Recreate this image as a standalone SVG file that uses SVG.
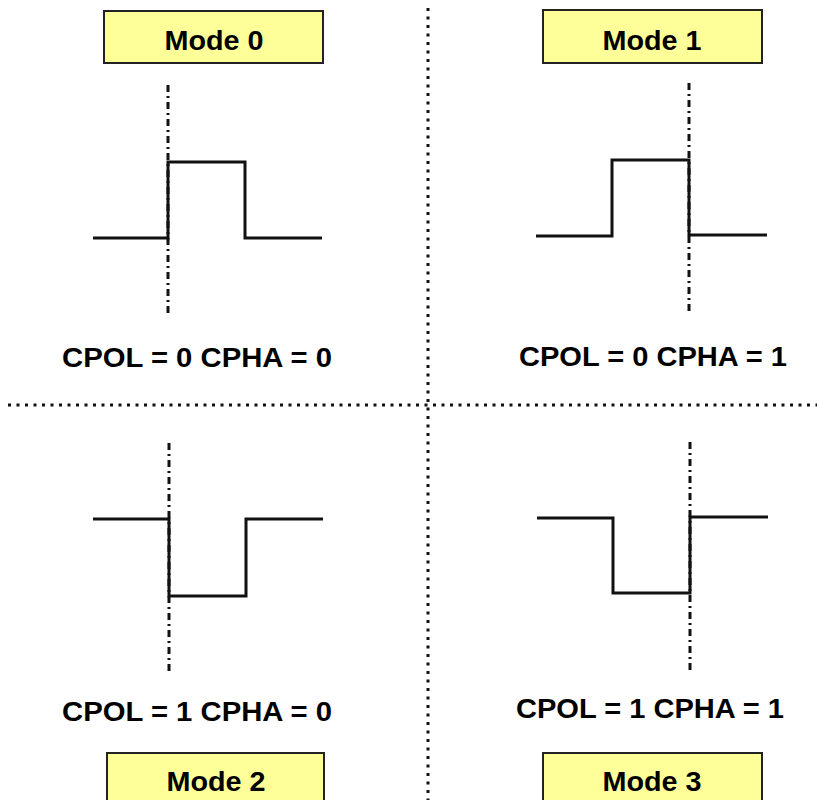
<svg xmlns="http://www.w3.org/2000/svg" width="817" height="800" viewBox="0 0 817 800">
<style>
.box{fill:#ffff99;stroke:#222;stroke-width:2}
.t{font-family:"Liberation Sans",Arial,sans-serif;font-weight:bold;font-size:27px;fill:#000;text-anchor:middle}
.wave{fill:none;stroke:#111;stroke-width:3;stroke-linejoin:miter}
.dd{stroke:#111;stroke-width:3;stroke-dasharray:7 4 2 4;fill:none}
.dot{stroke:#111;stroke-width:3;stroke-dasharray:3 5.5;fill:none}
</style>
<rect width="817" height="800" fill="#fff"/>
<g id="dividers">
<line class="dot" x1="428" y1="8" x2="428" y2="800"/>
<line class="dot" x1="8" y1="405" x2="817" y2="405"/>
</g>
<g id="mode0">
<rect class="box" x="104" y="11" width="219" height="52"/>
<text class="t" x="214" y="50" textLength="99" lengthAdjust="spacingAndGlyphs">Mode 0</text>
<line class="dd" x1="168" y1="85" x2="168" y2="317"/>
<polyline class="wave" points="93,238 168,238 168,162 245,162 245,238 322,238"/>
<text class="t" x="197" y="367" textLength="270" lengthAdjust="spacingAndGlyphs">CPOL = 0 CPHA = 0</text>
</g>
<g id="mode1">
<rect class="box" x="543" y="10" width="219" height="53"/>
<text class="t" x="652" y="50" textLength="99" lengthAdjust="spacingAndGlyphs">Mode 1</text>
<line class="dd" x1="689" y1="83" x2="689" y2="313"/>
<polyline class="wave" points="536,236 612,236 612,160 689,160 689,235 767,235"/>
<text class="t" x="653" y="366" textLength="268" lengthAdjust="spacingAndGlyphs">CPOL = 0 CPHA = 1</text>
</g>
<g id="mode2">
<rect class="box" x="107" y="753" width="217" height="60"/>
<text class="t" x="216" y="791" textLength="99" lengthAdjust="spacingAndGlyphs">Mode 2</text>
<line class="dd" x1="169" y1="443" x2="169" y2="673"/>
<polyline class="wave" points="93,519 169,519 169,596 246,596 246,519 323,519"/>
<text class="t" x="197" y="721" textLength="270" lengthAdjust="spacingAndGlyphs">CPOL = 1 CPHA = 0</text>
</g>
<g id="mode3">
<rect class="box" x="543" y="753" width="219" height="60"/>
<text class="t" x="652" y="791" textLength="99" lengthAdjust="spacingAndGlyphs">Mode 3</text>
<line class="dd" x1="690" y1="442" x2="690" y2="670"/>
<polyline class="wave" points="537,518 613,518 613,593 690,593 690,517 768,517"/>
<text class="t" x="650" y="718" textLength="268" lengthAdjust="spacingAndGlyphs">CPOL = 1 CPHA = 1</text>
</g>
</svg>
